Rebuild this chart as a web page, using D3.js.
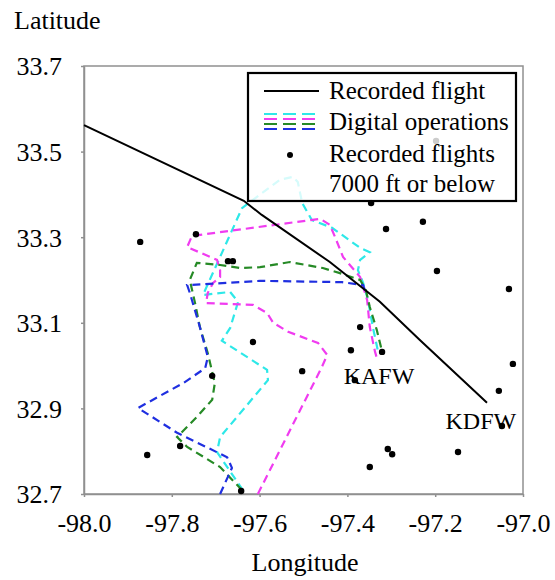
<!DOCTYPE html>
<html><head><meta charset="utf-8">
<script src="https://cdn.jsdelivr.net/npm/d3@7"></script>
<style>body{margin:0;background:#fff}svg{display:block}</style>
</head><body>
<svg id="c" width="555" height="580"></svg>
<script>
// ---- data ----
const xTicks = [-98.0, -97.8, -97.6, -97.4, -97.2, -97.0];
const yTicks = [32.7, 32.9, 33.1, 33.3, 33.5, 33.7];

const recordedLon = [-98.000, -97.636, -97.595, -97.440, -97.326, -97.235, -97.082];
const recordedLat = [33.562, 33.385, 33.352, 33.242, 33.149, 33.060, 32.913];

const cyanLon = [-97.638,-97.697,-97.690,-97.581,-97.583,-97.686,-97.667,-97.649,-97.667,-97.729,-97.690,-97.640,-97.595,-97.554,-97.524,-97.513,-97.503,-97.481,-97.435,-97.371,-97.349,-97.371,-97.376,-97.364,-97.353,-97.342,-97.330];
const cyanLat = [32.709,32.798,32.833,32.966,32.990,33.058,33.088,33.149,33.172,33.165,33.254,33.368,33.403,33.434,33.441,33.429,33.380,33.340,33.322,33.275,33.265,33.247,33.223,33.193,33.153,33.090,33.032];

const magentaLon = [-97.604,-97.458,-97.446,-97.467,-97.535,-97.569,-97.583,-97.615,-97.722,-97.718,-97.706,-97.690,-97.690,-97.697,-97.765,-97.754,-97.462,-97.440,-97.428,-97.410,-97.371,-97.364,-97.355,-97.349,-97.337,-97.333];
const magentaLat = [32.700,32.997,33.025,33.053,33.079,33.100,33.123,33.142,33.146,33.170,33.193,33.207,33.223,33.247,33.277,33.303,33.343,33.329,33.300,33.254,33.207,33.184,33.153,33.090,33.032,33.018];

const greenLon = [-97.640,-97.690,-97.765,-97.788,-97.743,-97.708,-97.702,-97.718,-97.736,-97.747,-97.759,-97.743,-97.690,-97.645,-97.599,-97.531,-97.456,-97.417,-97.371,-97.358,-97.349,-97.333,-97.323];
const greenLat = [32.709,32.763,32.810,32.833,32.880,32.920,32.959,33.029,33.090,33.146,33.200,33.240,33.235,33.228,33.230,33.242,33.228,33.216,33.200,33.177,33.137,33.083,33.041];

const blueLon = [-97.690,-97.663,-97.674,-97.788,-97.877,-97.774,-97.724,-97.718,-97.736,-97.759,-97.765,-97.599,-97.412,-97.364,-97.358];
const blueLat = [32.700,32.761,32.786,32.843,32.901,32.959,32.994,33.020,33.090,33.170,33.188,33.198,33.195,33.188,33.170];

const dotLon = [-97.872,-97.745,-97.672,-97.661,-97.346,-97.312,-97.228,-97.196,-97.032,-97.023,-97.055,-97.048,-97.308,-97.298,-97.148,-97.349,-97.503,-97.392,-97.321,-97.383,-97.371,-97.615,-97.708,-97.781,-97.856,-97.642];
const dotLat = [33.289,33.307,33.244,33.244,33.380,33.319,33.336,33.221,33.179,33.004,32.941,32.859,32.805,32.793,32.798,32.763,32.987,33.036,33.032,32.966,33.090,33.055,32.976,32.812,32.791,32.707];
const hiddenDotLon = [-97.198];
const hiddenDotLat = [33.525];

const airports = ["KAFW", "KDFW"];
const airportLon = [-97.328, -97.096];
const airportLat = [32.957, 32.852];

const legendLabels = ["Recorded flight", "Digital operations", "Recorded flights", "7000 ft or below"];
const opColors = ["#2ee8e8", "#f03cf0", "#268a26", "#1f2fe0"];

// ---- drawing ----
const svg = d3.select("#c");
const font = "'Liberation Serif','Times New Roman',serif";
const x = d3.scaleLinear().domain([-98, -97]).range([84, 523]);
const y = d3.scaleLinear().domain([32.7, 33.7]).range([494, 66]);
const axisColor = "#909090";
const fmt = d => d.toFixed(1);

// frame
svg.append("rect").attr("x", 84).attr("y", 66).attr("width", 439).attr("height", 428)
  .attr("fill", "none").attr("stroke", axisColor).attr("stroke-width", 1.5);

const xa = svg.append("g").attr("transform", "translate(0,494)")
  .call(d3.axisBottom(x).tickValues(xTicks).tickSize(3).tickSizeOuter(0).tickFormat(fmt));
const ya = svg.append("g").attr("transform", "translate(84,0)")
  .call(d3.axisLeft(y).tickValues(yTicks).tickSize(3).tickSizeOuter(0).tickFormat(fmt));
[xa, ya].forEach(a => {
  a.selectAll("path,line").attr("stroke", axisColor).attr("stroke-width", 1.5);
  a.selectAll("text").attr("fill", "#000").style("font-family", font).style("font-size", "26px");
});
xa.selectAll("text").attr("y", 0).attr("dy", "38px");
ya.selectAll("text").attr("x", -22).attr("dy", "0.34em");

const line = d3.line().x(d => x(d[0])).y(d => y(d[1]));
const zip = (a, b) => a.map((v, i) => [v, b[i]]);

const ops = [[cyanLon, cyanLat], [magentaLon, magentaLat], [greenLon, greenLat], [blueLon, blueLat]];
ops.forEach((o, i) => {
  svg.append("path").attr("d", line(zip(o[0], o[1])))
    .attr("fill", "none").attr("stroke", opColors[i]).attr("stroke-width", 2.2)
    .attr("stroke-dasharray", "8,5");
});

svg.append("path").attr("d", line(zip(recordedLon, recordedLat)))
  .attr("fill", "none").attr("stroke", "#000").attr("stroke-width", 2);

svg.selectAll(".dot").data(zip(dotLon, dotLat)).enter().append("circle")
  .attr("cx", d => x(d[0])).attr("cy", d => y(d[1])).attr("r", 3.2).attr("fill", "#000");
svg.selectAll(".hdot").data(zip(hiddenDotLon, hiddenDotLat)).enter().append("circle")
  .attr("cx", d => x(d[0])).attr("cy", d => y(d[1])).attr("r", 3.2).attr("fill", "#000");

svg.selectAll(".ap").data(airports).enter().append("text")
  .attr("x", (d, i) => x(airportLon[i])).attr("y", (d, i) => y(airportLat[i]))
  .attr("text-anchor", "middle").style("font-family", font).style("font-size", "24px").text(d => d);

// legend
const lg = svg.append("g");
lg.append("rect").attr("x", 248).attr("y", 73).attr("width", 268).attr("height", 128)
  .attr("fill", "#fff").attr("fill-opacity", 0.8).attr("stroke", "#000").attr("stroke-width", 2.2);
lg.append("line").attr("x1", 264).attr("x2", 319).attr("y1", 91).attr("y2", 91)
  .attr("stroke", "#000").attr("stroke-width", 2.2);
opColors.forEach((c, i) => {
  lg.append("line").attr("x1", 264).attr("x2", 319).attr("y1", 114 + i * 5).attr("y2", 114 + i * 5)
    .attr("stroke", c).attr("stroke-width", 2).attr("stroke-dasharray", "13,6");
});
lg.append("circle").attr("cx", 290).attr("cy", 155).attr("r", 3).attr("fill", "#000");
const lgY = [99, 130, 162, 192];
legendLabels.forEach((t, i) => {
  lg.append("text").attr("x", 329).attr("y", lgY[i]).style("font-family", font)
    .style("font-size", "25px").text(t);
});

svg.append("text").attr("x", 14).attr("y", 29).style("font-family", font).style("font-size", "26px").text("Latitude");
svg.append("text").attr("x", 305).attr("y", 571).attr("text-anchor", "middle").style("font-family", font).style("font-size", "26px").text("Longitude");
</script>
</body></html>
